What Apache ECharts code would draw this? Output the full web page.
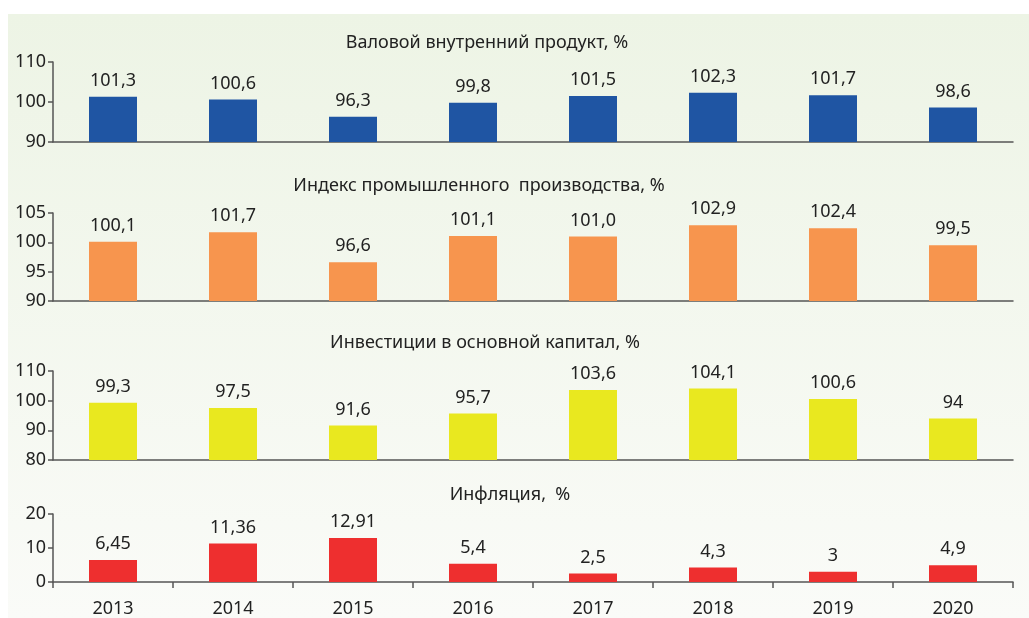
<!DOCTYPE html>
<html><head><meta charset="utf-8">
<script src="https://cdn.jsdelivr.net/npm/echarts@6/dist/echarts.min.js"></script>
<style>html,body{margin:0;padding:0;background:#fff}#c{width:1029px;height:618px}</style>
</head><body><div id="c"></div>
<script>
const years = ['2013','2014','2015','2016','2017','2018','2019','2020'];
const titles = ['Валовой внутренний продукт, %','Индекс промышленного  производства, %','Инвестиции в основной капитал, %','Инфляция,  %'];
const gdp = [101.3, 100.6, 96.3, 99.8, 101.5, 102.3, 101.7, 98.6];
const industry = [100.1, 101.7, 96.6, 101.1, 101.0, 102.9, 102.4, 99.5];
const investment = [99.3, 97.5, 91.6, 95.7, 103.6, 104.1, 100.6, 94];
const inflation = [6.45, 11.36, 12.91, 5.4, 2.5, 4.3, 3, 4.9];
const gdpLabels = ['101,3','100,6','96,3','99,8','101,5','102,3','101,7','98,6'];
const industryLabels = ['100,1','101,7','96,6','101,1','101,0','102,9','102,4','99,5'];
const investmentLabels = ['99,3','97,5','91,6','95,7','103,6','104,1','100,6','94'];
const inflationLabels = ['6,45','11,36','12,91','5,4','2,5','4,3','3','4,9'];
const yMin = [90, 90, 80, 0];
const yMax = [110, 105, 110, 20];
const yStep = [10, 5, 10, 10];

const seriesData = [gdp, industry, investment, inflation];
const seriesLabels = [gdpLabels, industryLabels, investmentLabels, inflationLabels];
const colors = ['#1f55a3', '#f7954e', '#e9e81f', '#ee2f2f'];
const grids = [
  {top: 62, height: 80},
  {top: 213, height: 88},
  {top: 371, height: 89},
  {top: 514, height: 68}
];
const titlePos = [{x: 487, y: 43}, {x: 479, y: 186}, {x: 485, y: 343}, {x: 510, y: 495}];
const font = '"Noto Sans", sans-serif';
const txt = '#222';

const chart = echarts.init(document.getElementById('c'), null, {renderer: 'canvas'});
const option = {
  animation: false,
  backgroundColor: '#fff',
  graphic: [{
    type: 'rect', z: -10, silent: true,
    shape: {x: 8, y: 14, width: 1021, height: 604},
    style: {fill: new echarts.graphic.LinearGradient(0, 0, 0, 1, [
      {offset: 0, color: '#edf4e5'}, {offset: 1, color: '#fafbf8'}])}
  }].concat(titles.map((t, i) => ({
    type: 'text', z: 10, x: titlePos[i].x, y: titlePos[i].y,
    style: {text: t, font: '18px ' + font, fill: txt, textAlign: 'center', textVerticalAlign: 'middle'}
  }))),
  grid: grids.map(g => ({left: 53, right: 16, top: g.top, height: g.height})),
  xAxis: grids.map((g, i) => ({
    type: 'category', gridIndex: i, data: years,
    axisLine: {lineStyle: {color: '#555', width: 1.5}},
    axisTick: {show: i === 3, length: 6, lineStyle: {color: '#555', width: 1.5}},
    axisLabel: {show: i === 3, margin: 18, fontSize: 18, fontFamily: font, color: txt}
  })),
  yAxis: grids.map((g, i) => ({
    type: 'value', gridIndex: i, min: yMin[i], max: yMax[i], interval: yStep[i],
    axisLine: {show: true, lineStyle: {color: '#555', width: 1.5}},
    axisTick: {show: true, length: 5, lineStyle: {color: '#555', width: 1.5}},
    splitLine: {show: false},
    axisLabel: {margin: 7, fontSize: 18, fontFamily: font, color: txt}
  })),
  series: seriesData.map((d, i) => ({
    type: 'bar', xAxisIndex: i, yAxisIndex: i, data: d, barWidth: '40%',
    itemStyle: {color: colors[i]},
    label: {show: true, position: 'top', distance: 7, fontSize: 18, fontFamily: font, color: txt,
      formatter: p => seriesLabels[i][p.dataIndex]}
  }))
};
chart.setOption(option);
</script></body></html>
